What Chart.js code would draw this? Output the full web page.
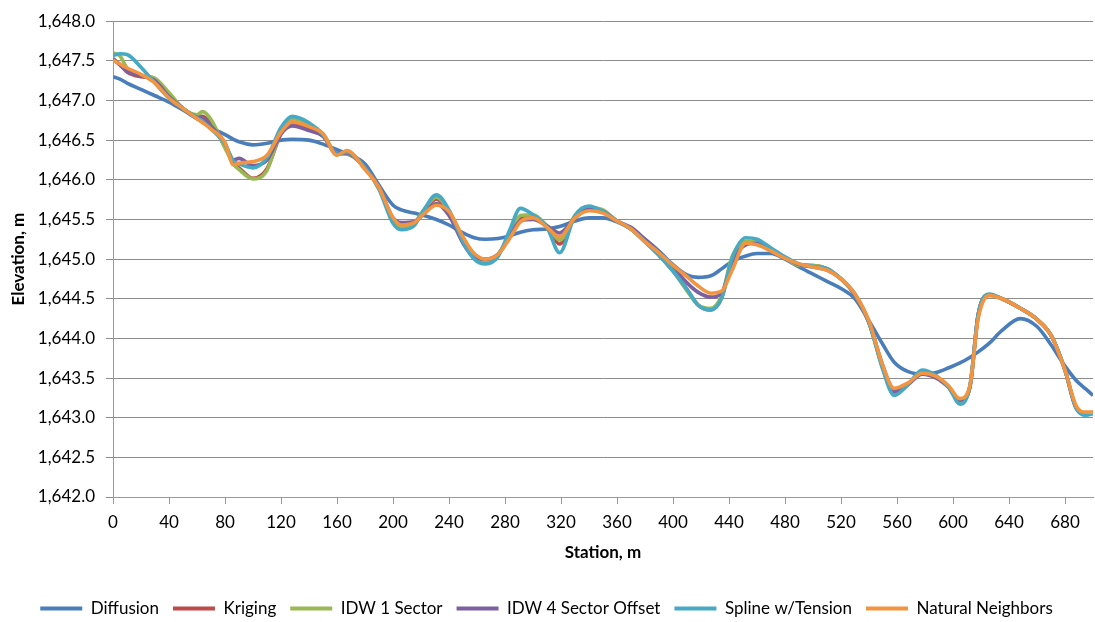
<!DOCTYPE html>
<html>
<head>
<meta charset="utf-8">
<script src="https://cdn.jsdelivr.net/npm/chart.js@4.4.1/dist/chart.umd.min.js"></script>
<style>
  html, body { margin: 0; padding: 0; background: #ffffff; }
  #wrap { width: 1095px; height: 622px; }
</style>
</head>
<body>
<div id="wrap"><canvas id="c" width="1095" height="622"></canvas></div>
<script>
// Station (m) for every sampled point
const stations = [0,5,10,20,30,40,50,60,64,70,80,86,90,100,110,120,128,140,150,160,167,180,190,200,206,215,222,231,240,250,258,266,275,283,291,300,310,319,330,340,350,360,370,380,390,400,410,418,427,435,442,452,460,470,480,490,500,510,520,530,540,550,558,568,578,588,597,605,612,618,626,635,648,660,670,680,688,695,700];

const diffusion = [1647.30,1647.27,1647.22,1647.14,1647.06,1646.98,1646.88,1646.77,1646.73,1646.66,1646.57,1646.51,1646.48,1646.44,1646.46,1646.50,1646.51,1646.50,1646.45,1646.38,1646.33,1646.20,1645.93,1645.68,1645.62,1645.58,1645.55,1645.50,1645.43,1645.33,1645.27,1645.25,1645.26,1645.29,1645.34,1645.37,1645.38,1645.41,1645.48,1645.52,1645.52,1645.47,1645.38,1645.25,1645.10,1644.93,1644.80,1644.77,1644.79,1644.88,1644.97,1645.04,1645.07,1645.07,1645.00,1644.90,1644.81,1644.72,1644.63,1644.50,1644.22,1643.92,1643.70,1643.58,1643.55,1643.57,1643.63,1643.69,1643.76,1643.83,1643.94,1644.10,1644.25,1644.15,1643.92,1643.65,1643.47,1643.36,1643.28];

const kriging = [1647.52,1647.45,1647.36,1647.30,1647.27,1647.08,1646.90,1646.80,1646.80,1646.70,1646.42,1646.20,1646.15,1646.02,1646.14,1646.58,1646.72,1646.65,1646.55,1646.33,1646.33,1646.15,1645.90,1645.50,1645.43,1645.46,1645.60,1645.76,1645.58,1645.25,1645.03,1644.99,1645.06,1645.28,1645.52,1645.54,1645.40,1645.19,1645.53,1645.64,1645.60,1645.48,1645.38,1645.22,1645.05,1644.85,1644.62,1644.42,1644.36,1644.52,1645.00,1645.22,1645.22,1645.12,1645.02,1644.93,1644.92,1644.88,1644.75,1644.55,1644.20,1643.62,1643.30,1643.42,1643.57,1643.52,1643.38,1643.20,1643.38,1644.30,1644.55,1644.50,1644.38,1644.24,1644.04,1643.60,1643.12,1643.05,1643.06];

const idw1 = [1647.60,1647.56,1647.41,1647.32,1647.28,1647.10,1646.90,1646.82,1646.86,1646.76,1646.40,1646.20,1646.13,1646.01,1646.12,1646.62,1646.77,1646.70,1646.58,1646.33,1646.33,1646.15,1645.90,1645.50,1645.41,1645.45,1645.62,1645.78,1645.60,1645.24,1645.02,1644.98,1645.06,1645.30,1645.55,1645.56,1645.42,1645.24,1645.55,1645.65,1645.62,1645.48,1645.38,1645.22,1645.05,1644.85,1644.60,1644.42,1644.38,1644.55,1645.02,1645.22,1645.22,1645.12,1645.02,1644.92,1644.92,1644.88,1644.75,1644.55,1644.20,1643.62,1643.30,1643.42,1643.57,1643.52,1643.38,1643.20,1643.38,1644.30,1644.55,1644.50,1644.38,1644.24,1644.04,1643.60,1643.12,1643.05,1643.06];

const idw4 = [1647.53,1647.45,1647.37,1647.31,1647.25,1647.05,1646.90,1646.79,1646.78,1646.68,1646.46,1646.25,1646.27,1646.18,1646.25,1646.58,1646.68,1646.62,1646.55,1646.33,1646.34,1646.15,1645.90,1645.52,1645.46,1645.47,1645.57,1645.70,1645.55,1645.20,1645.02,1645.00,1645.06,1645.28,1645.48,1645.50,1645.42,1645.33,1645.52,1645.63,1645.60,1645.48,1645.40,1645.25,1645.08,1644.90,1644.70,1644.58,1644.52,1644.58,1644.95,1645.18,1645.20,1645.12,1645.02,1644.93,1644.90,1644.86,1644.75,1644.55,1644.20,1643.65,1643.33,1643.42,1643.55,1643.50,1643.38,1643.22,1643.38,1644.30,1644.55,1644.50,1644.38,1644.24,1644.04,1643.60,1643.12,1643.05,1643.07];

const spline = [1647.57,1647.59,1647.58,1647.42,1647.22,1647.03,1646.90,1646.78,1646.74,1646.64,1646.45,1646.24,1646.20,1646.15,1646.28,1646.66,1646.80,1646.72,1646.57,1646.32,1646.35,1646.15,1645.88,1645.45,1645.37,1645.42,1645.62,1645.81,1645.62,1645.22,1645.00,1644.94,1645.03,1645.35,1645.64,1645.56,1645.40,1645.08,1645.55,1645.67,1645.60,1645.48,1645.38,1645.22,1645.05,1644.85,1644.62,1644.42,1644.36,1644.52,1645.00,1645.27,1645.25,1645.14,1645.03,1644.94,1644.91,1644.88,1644.75,1644.56,1644.20,1643.60,1643.28,1643.42,1643.60,1643.53,1643.38,1643.17,1643.40,1644.30,1644.56,1644.50,1644.38,1644.24,1644.04,1643.60,1643.12,1643.03,1643.05];

const natural = [1647.51,1647.46,1647.41,1647.33,1647.22,1647.03,1646.90,1646.77,1646.72,1646.64,1646.47,1646.19,1646.21,1646.23,1646.31,1646.60,1646.73,1646.67,1646.58,1646.31,1646.37,1646.13,1645.90,1645.52,1645.43,1645.46,1645.57,1645.68,1645.60,1645.28,1645.07,1645.00,1645.06,1645.25,1645.47,1645.52,1645.40,1645.28,1645.52,1645.61,1645.58,1645.48,1645.38,1645.22,1645.08,1644.92,1644.78,1644.66,1644.57,1644.60,1644.85,1645.20,1645.18,1645.10,1645.01,1644.94,1644.90,1644.86,1644.75,1644.56,1644.22,1643.65,1643.37,1643.44,1643.56,1643.52,1643.40,1643.24,1643.40,1644.25,1644.54,1644.50,1644.38,1644.24,1644.04,1643.60,1643.15,1643.07,1643.07];

const seriesNames = ['Diffusion','Kriging','IDW 1 Sector','IDW 4 Sector Offset','Spline w/Tension','Natural Neighbors'];
const seriesValues = [diffusion, kriging, idw1, idw4, spline, natural];
const seriesColors = ['#4A7EBB','#BE4B48','#98B954','#7D60A0','#46AAC5','#F39440'];

// x tick labels (axis runs to 700 m, last label 680)
const xTicks = [0,40,80,120,160,200,240,280,320,360,400,440,480,520,560,600,640,680];
const yTickStep = 0.5;

const datasets = seriesNames.map((name, k) => ({
  label: name,
  data: stations.map((s, i) => ({x: s, y: seriesValues[k][i]})),
  borderColor: seriesColors[k],
  backgroundColor: seriesColors[k],
  borderWidth: 3.6,
  pointRadius: 0,
  cubicInterpolationMode: 'monotone',
  fill: false,
  order: seriesNames.length - k
}));

const tickFont = {family: 'Lato', size: 17};
const titleFont = {family: 'Lato', size: 17, weight: 'bold'};

const shiftLegend = {
  id: 'shiftLegend',
  afterLayout(chart) {
    const lg = chart.legend;
    if (lg) { lg.top += 9; lg.bottom += 9; }
  }
};

new Chart(document.getElementById('c'), {
  type: 'line',
  data: {datasets},
  plugins: [shiftLegend],
  options: {
    responsive: false,
    animation: false,
    layout: {padding: {top: 0, right: 2, left: 0, bottom: 4}},
    plugins: {
      legend: {
        position: 'bottom',
        labels: {
          font: {family: 'Lato', size: 17},
          color: '#000',
          boxWidth: 42,
          boxHeight: 4,
          padding: 14,
          generateLabels(chart) {
            return chart.data.datasets.map((d, i) => ({
              text: d.label,
              fillStyle: d.borderColor,
              strokeStyle: d.borderColor,
              lineWidth: 0,
              hidden: false,
              datasetIndex: i,
              fontColor: '#000'
            }));
          }
        }
      },
      tooltip: {enabled: false}
    },
    scales: {
      x: {
        type: 'linear',
        min: 0,
        max: 700,
        afterBuildTicks(scale) {
          scale.ticks = xTicks.map(v => ({value: v}));
        },
        afterFit(scale) { scale.height = 80; },
        ticks: {font: tickFont, color: '#000', padding: 8, maxRotation: 0, autoSkip: false},
        grid: {drawOnChartArea: false, tickLength: 7, color: '#9a9a9a'},
        border: {color: '#9a9a9a', width: 1},
        title: {display: true, text: 'Station, m', font: titleFont, color: '#000', padding: {top: 0, bottom: 14}}
      },
      y: {
        min: 1642,
        max: 1648,
        afterFit(scale) { scale.width = 113; },
        ticks: {
          stepSize: yTickStep,
          font: tickFont,
          color: '#000',
          padding: 11,
          callback: v => Number(v).toLocaleString('en-US', {minimumFractionDigits: 1, maximumFractionDigits: 1})
        },
        grid: {color: '#8c8c8c', tickLength: 7},
        border: {color: '#9a9a9a', width: 1},
        title: {display: true, text: 'Elevation, m', font: titleFont, color: '#000', padding: {top: 8, bottom: 0}}
      }
    }
  }
});
</script>
</body>
</html>
